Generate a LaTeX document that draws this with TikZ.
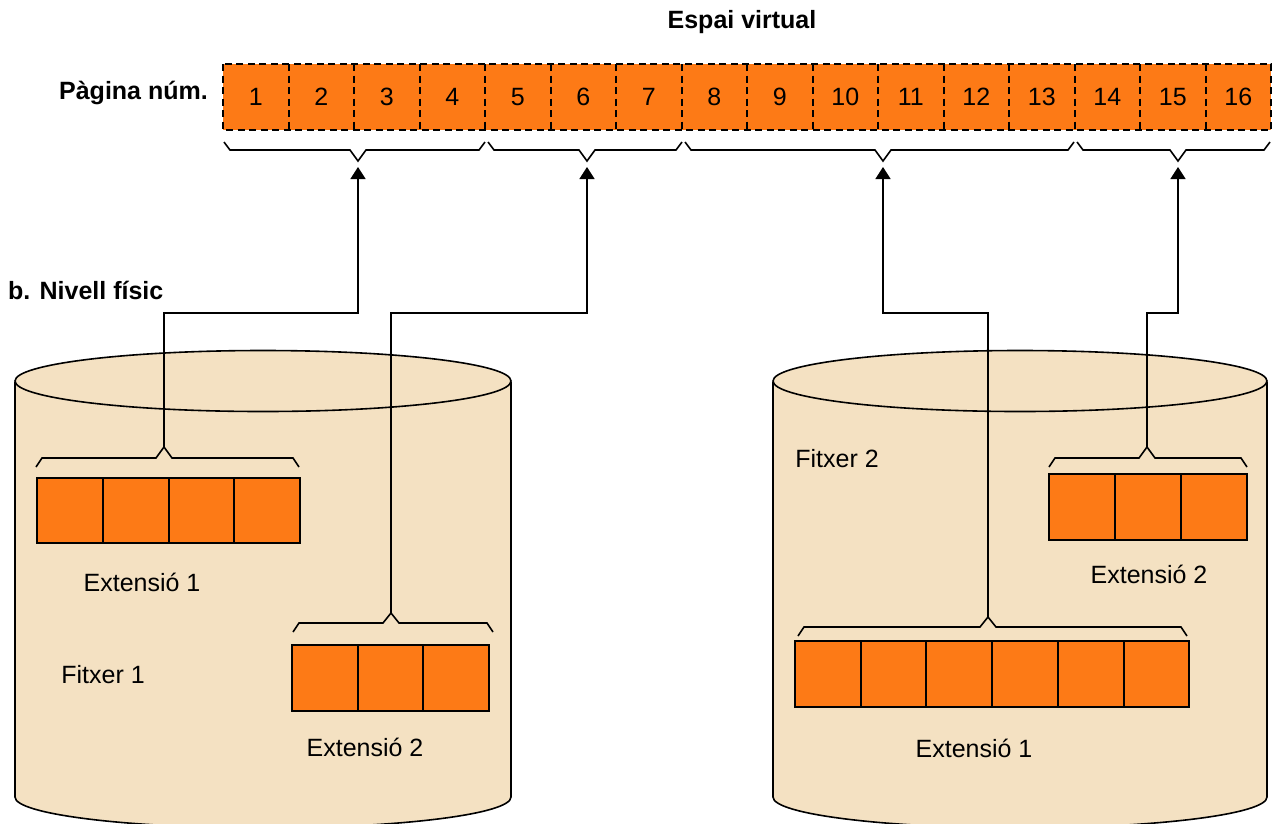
\documentclass[tikz,border=0pt]{standalone}
\usepackage{fontspec}
\setmainfont{Liberation Sans}
\usetikzlibrary{arrows.meta}
\definecolor{pgorange}{RGB}{253,122,22}
\definecolor{cylfill}{RGB}{244,225,194}
\newcommand{\mybrace}[7]{\draw[brc] (#1,#4) -- (#1+6,#5) -- (#3-8,#5) -- (#3,#6) coordinate (#7) -- (#3+8,#5) -- (#2-6,#5) -- (#2,#4);}
\newcommand{\mycyl}[4]{%
  \fill[cylfill] (#1,#3) rectangle (#2,#4);
  \fill[cylfill] ({(#1+#2)/2},#4) ellipse[x radius={(#2-#1)/2}, y radius=31];
  \draw[ln] (#1,#3) -- (#1,#4);
  \draw[ln] (#2,#3) -- (#2,#4);
  \begin{scope}
    \clip (0,#4) rectangle (1272,#4+40);
    \draw[ln] ({(#1+#2)/2},#4) ellipse[x radius={(#2-#1)/2}, y radius=31];
  \end{scope}
  \filldraw[ln, fill=cylfill] ({(#1+#2)/2},#3-1) ellipse[x radius={(#2-#1)/2}, y radius=30.5];
}
\tikzset{
  ln/.style={line width=1.6pt, draw=black},
  brc/.style={line width=1.6pt, draw=black, line join=miter},
  dsh/.style={draw=black, dash pattern=on 7pt off 4.5pt, line width=2pt},
  vcell/.style={fill=pgorange,
    minimum width=65.5pt, minimum height=66pt, inner sep=0pt, outer sep=0pt, font=\fontsize{25}{29}\selectfont},
  pcell/.style={fill=pgorange, minimum height=66pt, inner sep=0pt, outer sep=0pt},
  sep/.style={draw=black, line width=2pt},
  lbl/.style={font=\fontsize{25}{29}\selectfont, inner sep=0pt},
  blbl/.style={font=\fontsize{25}{29}\selectfont\bfseries, inner sep=0pt},
  arr/.style={line width=1.6pt, -{Triangle[length=12pt, width=15pt]}, shorten >=6pt}
}
\begin{document}
\begin{tikzpicture}[x=1pt, y=-1pt]
\useasboundingbox (0,0) rectangle (1272,823);

% titles
\node[blbl] (title) at (742,22) {Espai virtual};
\node[blbl, anchor=east] (pag) at (208,93) {Pàgina núm.};
\node[blbl, anchor=west] (niv) at (8,290) {b. Nivell físic};

% virtual pages
\foreach \i in {1,...,16} {
  \node[vcell] (c\i) at ({223+65.5*(\i-0.5)},97) {\i};
}
\foreach \i in {1,...,15} {
  \draw[dsh] (c\i.north east) -- (c\i.south east);
}
\draw[dsh] (c1.north west) rectangle (c16.south east);

% top braces
\mybrace{224}{485}{358}{142}{150}{161}{t1}
\mybrace{488}{682}{587}{142}{150}{161}{t2}
\mybrace{685}{1074}{883}{142}{150}{161}{t3}
\mybrace{1077}{1270}{1178}{142}{150}{161}{t4}

% cylinders
\mycyl{15}{511}{382}{797}
\mycyl{773}{1267}{382}{797}

% file 1, extent 1
\foreach \i in {1,...,4} {
  \node[pcell, minimum width=65.75pt, minimum height=65pt] (a\i) at ({37+65.75*(\i-0.5)},510.5) {};
}
\foreach \i in {1,...,3} { \draw[sep] (a\i.north east) -- (a\i.south east); }
\draw[sep] (a1.north west) rectangle (a4.south east);
\mybrace{36}{299}{164}{467}{458}{447}{l1}
% file 1, extent 2
\foreach \i in {1,...,3} {
  \node[pcell, minimum width=65.7pt] (b\i) at ({292+65.7*(\i-0.5)},678) {};
}
\foreach \i in {1,2} { \draw[sep] (b\i.north east) -- (b\i.south east); }
\draw[sep] (b1.north west) rectangle (b3.south east);
\mybrace{293}{493}{391}{632}{623}{613}{l2}
% file 2, extent 2
\foreach \i in {1,...,3} {
  \node[pcell, minimum width=66pt] (d\i) at ({1049+66*(\i-0.5)},507) {};
}
\foreach \i in {1,2} { \draw[sep] (d\i.north east) -- (d\i.south east); }
\draw[sep] (d1.north west) rectangle (d3.south east);
\mybrace{1049}{1247}{1147}{467}{458}{447}{l4}
% file 2, extent 1
\foreach \i in {1,...,6} {
  \node[pcell, minimum width=65.7pt] (e\i) at ({795+65.7*(\i-0.5)},674) {};
}
\foreach \i in {1,...,5} { \draw[sep] (e\i.north east) -- (e\i.south east); }
\draw[sep] (e1.north west) rectangle (e6.south east);
\mybrace{798}{1187}{988}{636}{627}{617}{l3}

% labels
\node[lbl] (x11) at (142,582) {Extensió 1};
\node[lbl] (f1) at (103,675) {Fitxer 1};
\node[lbl] (x12) at (365,747) {Extensió 2};
\node[lbl] (f2) at (837,459) {Fitxer 2};
\node[lbl] (x22) at (1149,574) {Extensió 2};
\node[lbl] (x21) at (974,748) {Extensió 1};

% connectors
\coordinate (k1) at (358,313);
\coordinate (k2) at (587,313);
\coordinate (k3) at (883,313);
\coordinate (k4) at (1178,313);
\draw[arr] (l1) |- (k1) -- (t1);
\draw[arr] (l2) |- (k2) -- (t2);
\draw[arr] (l3) |- (k3) -- (t3);
\draw[arr] (l4) |- (k4) -- (t4);
\end{tikzpicture}
\end{document}
